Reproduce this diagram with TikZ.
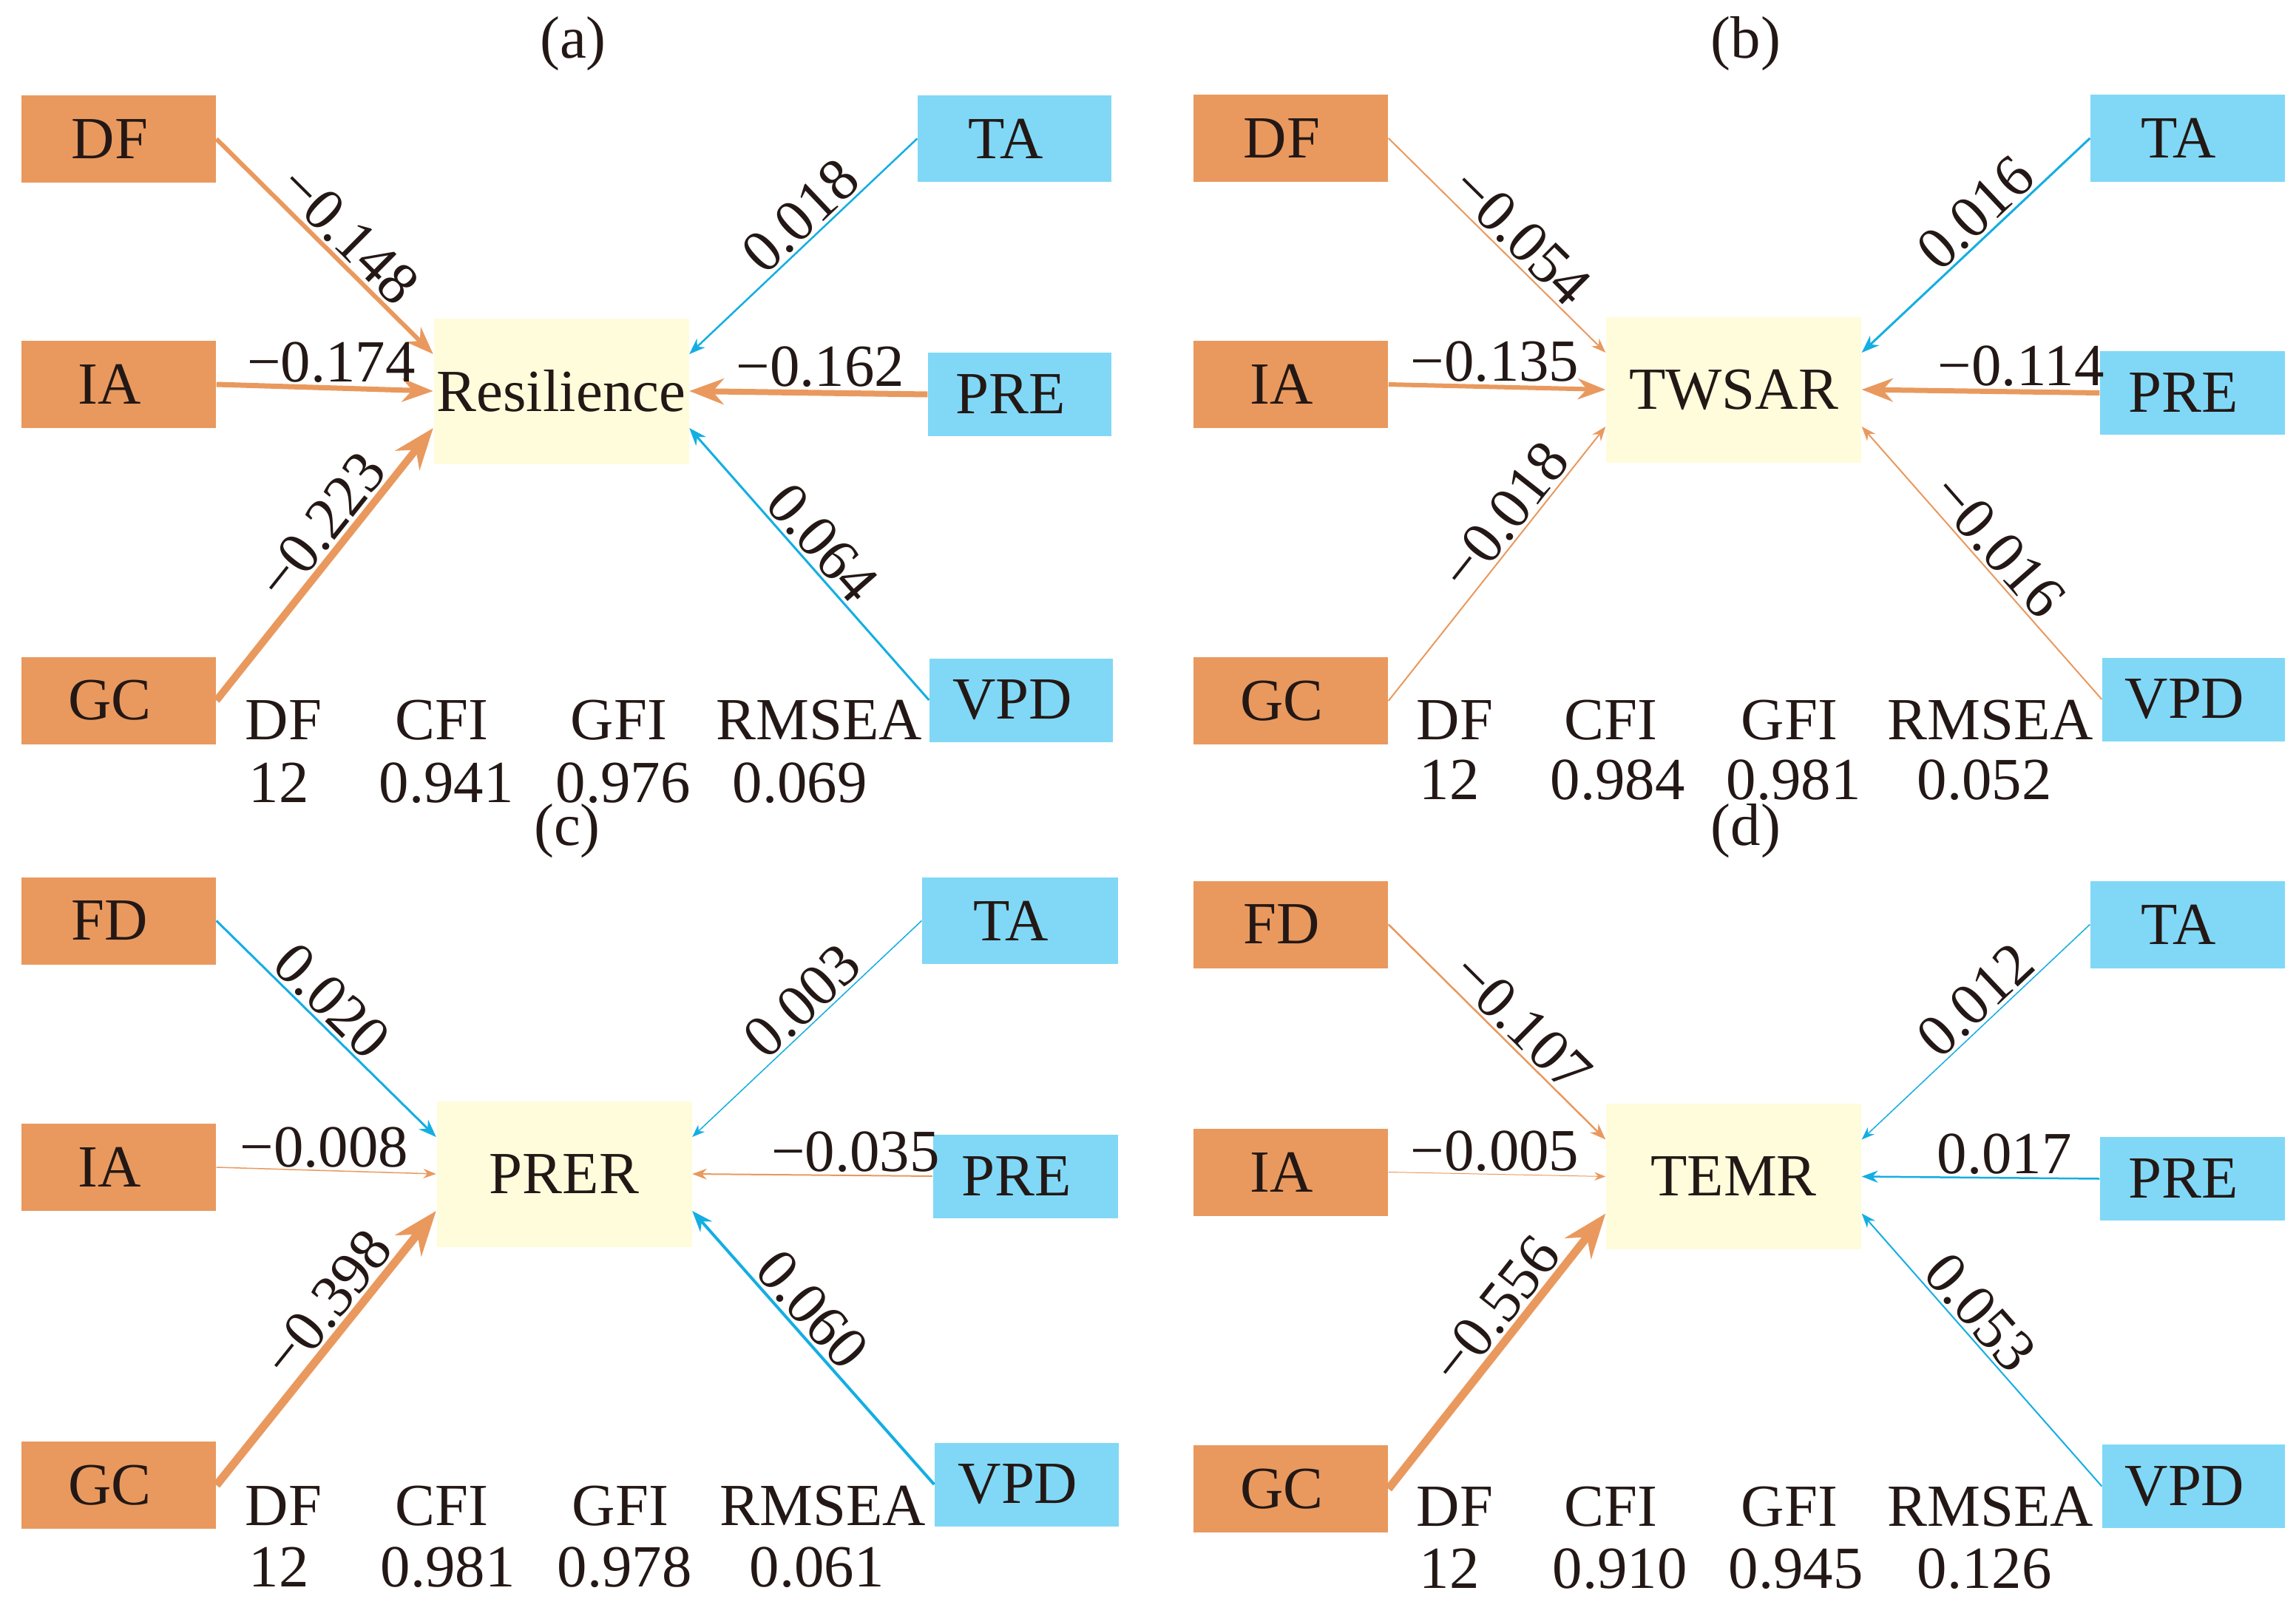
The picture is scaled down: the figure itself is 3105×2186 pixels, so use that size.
\documentclass[tikz,border=0pt]{standalone}
\usepackage{fontspec}
\setmainfont{Liberation Serif}
\usetikzlibrary{arrows.meta}
\definecolor{orng}{RGB}{233,153,94}
\definecolor{sky}{RGB}{128,216,246}
\definecolor{skyline}{RGB}{20,174,226}
\definecolor{cream}{RGB}{255,252,220}
\definecolor{ink}{RGB}{35,24,21}

\begin{document}
\begin{tikzpicture}[x=0.1mm, y=-0.1mm, >=Stealth,
  every node/.style={text=ink, font=\fontsize{23}{27}\selectfont},
  nudge/.style={execute at end node={\hspace*{2.4mm}}},
  drv/.style={fill=orng, minimum width=26.3mm, minimum height=11.8mm, inner sep=0pt, nudge},
  clm/.style={fill=sky, minimum width=25mm, minimum height=11.3mm, inner sep=0pt, nudge},
  resp/.style={fill=cream, minimum width=34.5mm, minimum height=19.7mm, inner sep=0pt},
  negarr/.style={draw=orng, ->},
  posarr/.style={draw=skyline, ->},
  coef/.style={sloped, above, inner sep=1pt},
  flat/.style={above, inner sep=1pt},
  stat/.style={anchor=base west, inner sep=0pt}]

\useasboundingbox (0,0) rectangle (3105,2186);

% (a) Resilience
\node (ttla) at (775,59) {(a)};
\node[drv] (DFa) at (160.5,188) {DF};
\node[drv] (IAa) at (160.5,520) {IA};
\node[drv] (GCa) at (160.5,947.5) {GC};
\node[clm, minimum width=26.2mm, minimum height=11.7mm] (TAa) at (1372,187.5) {TA};
\node[clm, minimum width=24.8mm] (PREa) at (1379,533.5) {PRE};
\node[clm, minimum width=24.8mm] (VPDa) at (1381,947) {VPD};
\node[resp] (Ra) at (759,529) {Resilience};

\draw[negarr, line width=0.6mm] (DFa.east) -- ([yshift=5mm]Ra.west) node[coef, pos=.53] {−0.148};
\draw[negarr, line width=0.7mm] (IAa.east) -- (Ra.west) node[flat, pos=.53] {−0.174};
\draw[negarr, line width=1mm] (GCa.east) -- ([yshift=-5mm]Ra.west) node[coef, pos=.58] {−0.223};
\draw[posarr, line width=0.25mm] (TAa.west) -- ([yshift=5mm]Ra.east) node[coef, pos=.44] {0.018};
\draw[negarr, line width=0.8mm] (PREa.west) -- (Ra.east) node[flat, pos=.45] {−0.162};
\draw[posarr, line width=0.3mm] (VPDa.west) -- ([yshift=-5mm]Ra.east) node[coef, pos=.52] {0.064};

\node[stat] (h1a) at (331,1000) {DF};
\node[stat] (h2a) at (534,1000) {CFI};
\node[stat] (h3a) at (771,1000) {GFI};
\node[stat] (h4a) at (968,1000) {RMSEA};
\node[stat] (v1a) at (336,1085) {12};
\node[stat] (v2a) at (512,1085) {0.941};
\node[stat] (v3a) at (751,1085) {0.976};
\node[stat] (v4a) at (990,1085) {0.069};

% (b) TWSAR
\node (ttlb) at (2361,59) {(b)};
\node[drv] (DFb) at (1745.5,187) {DF};
\node[drv] (IAb) at (1745.5,520) {IA};
\node[drv] (GCb) at (1745.5,948) {GC};
\node[clm, minimum width=26.3mm, minimum height=11.8mm] (TAb) at (2958.5,187) {TA};
\node[clm] (PREb) at (2965,531.5) {PRE};
\node[clm, minimum width=24.7mm] (VPDb) at (2966.5,946) {VPD};
\node[resp] (Tb) at (2344.5,527) {TWSAR};

\draw[negarr, line width=0.2mm] (DFb.east) -- ([yshift=5mm]Tb.west) node[coef, pos=.535] {−0.054};
\draw[negarr, line width=0.6mm] (IAb.east) -- (Tb.west) node[flat, pos=.49] {−0.135};
\draw[negarr, line width=0.2mm] (GCb.east) -- ([yshift=-5mm]Tb.west) node[coef, pos=.62] {−0.018};
\draw[posarr, line width=0.3mm] (TAb.west) -- ([yshift=5mm]Tb.east) node[coef, pos=.43] {0.016};
\draw[negarr, line width=0.7mm] (PREb.west) -- (Tb.east) node[flat, pos=.33] {−0.114};
\draw[negarr, line width=0.2mm] (VPDb.west) -- ([yshift=-5mm]Tb.east) node[coef, pos=.505] {−0.016};

\node[stat] (h1b) at (1915,1000) {DF};
\node[stat] (h2b) at (2115,1000) {CFI};
\node[stat] (h3b) at (2354,1000) {GFI};
\node[stat] (h4b) at (2552,1000) {RMSEA};
\node[stat] (v1b) at (1919,1081) {12};
\node[stat] (v2b) at (2096,1081) {0.984};
\node[stat] (v3b) at (2334,1081) {0.981};
\node[stat] (v4b) at (2592,1081) {0.052};

% (c) PRER
\node (ttlc) at (767,1124) {(c)};
\node[drv] (FDc) at (160.5,1245.5) {FD};
\node[drv] (IAc) at (160.5,1579) {IA};
\node[drv] (GCc) at (160.5,2009) {GC};
\node[clm, minimum width=26.5mm, minimum height=11.7mm] (TAc) at (1379.5,1245.5) {TA};
\node[clm] (PREc) at (1386.5,1591) {PRE};
\node[clm, minimum width=24.9mm] (VPDc) at (1388.5,2008) {VPD};
\node[resp] (Pc) at (763,1588) {PRER};

\draw[posarr, line width=0.3mm] (FDc.east) -- ([yshift=5mm]Pc.west) node[coef, pos=.45] {0.020};
\draw[negarr, line width=0.15mm] (IAc.east) -- (Pc.west) node[flat, pos=.49] {−0.008};
\draw[negarr, line width=1.1mm] (GCc.east) -- ([yshift=-5mm]Pc.west) node[coef, pos=.6] {−0.398};
\draw[posarr, line width=0.15mm] (TAc.west) -- ([yshift=5mm]Pc.east) node[coef, pos=.45] {0.003};
\draw[negarr, line width=0.2mm] (PREc.west) -- (Pc.east) node[flat, pos=.32] {−0.035};
\draw[posarr, line width=0.4mm] (VPDc.west) -- ([yshift=-5mm]Pc.east) node[coef, pos=.58] {0.060};

\node[stat] (h1c) at (331,2063) {DF};
\node[stat] (h2c) at (534,2063) {CFI};
\node[stat] (h3c) at (773,2063) {GFI};
\node[stat] (h4c) at (973,2063) {RMSEA};
\node[stat] (v1c) at (336,2146) {12};
\node[stat] (v2c) at (514,2146) {0.981};
\node[stat] (v3c) at (753,2146) {0.978};
\node[stat] (v4c) at (1013,2146) {0.061};

% (d) TEMR
\node (ttld) at (2361,1124) {(d)};
\node[drv] (FDd) at (1745.5,1250.5) {FD};
\node[drv] (IAd) at (1745.5,1585.5) {IA};
\node[drv] (GCd) at (1745.5,2014) {GC};
\node[clm, minimum width=26.3mm, minimum height=11.8mm] (TAd) at (2958.5,1250.5) {TA};
\node[clm] (PREd) at (2965,1594.5) {PRE};
\node[clm, minimum width=24.7mm] (VPDd) at (2966.5,2010.5) {VPD};
\node[resp] (Md) at (2344.5,1591.5) {TEMR};

\draw[negarr, line width=0.25mm] (FDd.east) -- ([yshift=5mm]Md.west) node[coef, pos=.535] {−0.107};
\draw[negarr, line width=0.1mm] (IAd.east) -- (Md.west) node[flat, pos=.49] {−0.005};
\draw[negarr, line width=1.1mm] (GCd.east) -- ([yshift=-5mm]Md.west) node[coef, pos=.59] {−0.556};
\draw[posarr, line width=0.15mm] (TAd.west) -- ([yshift=5mm]Md.east) node[coef, pos=.43] {0.012};
\draw[posarr, line width=0.25mm] (PREd.west) -- (Md.east) node[flat, pos=.4] {0.017};
\draw[posarr, line width=0.2mm] (VPDd.west) -- ([yshift=-5mm]Md.east) node[coef, pos=.58] {0.053};

\node[stat] (h1d) at (1915,2064) {DF};
\node[stat] (h2d) at (2115,2064) {CFI};
\node[stat] (h3d) at (2354,2064) {GFI};
\node[stat] (h4d) at (2552,2064) {RMSEA};
\node[stat] (v1d) at (1919,2148) {12};
\node[stat] (v2d) at (2099,2148) {0.910};
\node[stat] (v3d) at (2337,2148) {0.945};
\node[stat] (v4d) at (2592,2148) {0.126};

\end{tikzpicture}
\end{document}
